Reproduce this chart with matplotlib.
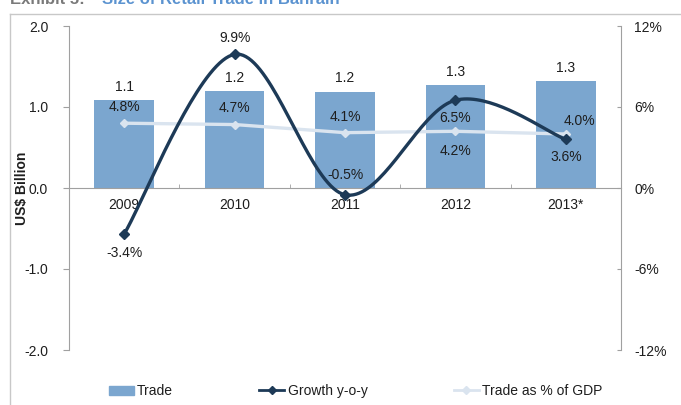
import numpy as np
import matplotlib.pyplot as plt
from matplotlib.lines import Line2D
from matplotlib.patches import Patch

plt.rcParams['font.family'] = ['Liberation Sans', 'DejaVu Sans']

years = ['2009', '2010', '2011', '2012', '2013*']
trade = [1.09, 1.20, 1.19, 1.27, 1.32]            # US$ billion
growth = [-3.4, 9.9, -0.5, 6.5, 3.6]              # % y-o-y
gdp_share = [4.8, 4.7, 4.1, 4.2, 4.0]             # % of GDP

bar_color = '#7ba6cf'
growth_color = '#1d3a57'
gdp_color = '#dae4ef'
text_color = '#1e1e1e'
axis_color = '#a0a0a0'


def smooth(xs, ys, n=40):
    # Catmull-Rom curve through the points, like a spreadsheet "smoothed line"
    xs = np.asarray(xs, float)
    ys = np.asarray(ys, float)
    px = np.concatenate([[xs[0]], xs, [xs[-1]]])
    py = np.concatenate([[ys[0]], ys, [ys[-1]]])
    outx, outy = [], []
    t = np.linspace(0, 1, n)
    for i in range(1, len(px) - 2):
        for p, out in ((px, outx), (py, outy)):
            p0, p1, p2, p3 = p[i - 1], p[i], p[i + 1], p[i + 2]
            out.extend(0.5 * ((2 * p1) + (-p0 + p2) * t
                              + (2 * p0 - 5 * p1 + 4 * p2 - p3) * t ** 2
                              + (-p0 + 3 * p1 - 3 * p2 + p3) * t ** 3))
    return np.array(outx), np.array(outy)


fig = plt.figure(figsize=(6.81, 4.05), dpi=100)
W, H = 681, 405
ax = fig.add_axes([69 / W, (H - 350) / H, (621 - 69) / W, (350 - 26) / H])
ax2 = ax.twinx()

x = np.arange(len(years))
ax.bar(x, trade, width=0.54, color=bar_color, zorder=2)
for xi, v in zip(x, trade):
    ax.annotate(f'{v:.1f}', (xi, v), xytext=(0, 9.5), textcoords='offset points',
                ha='center', va='center', fontsize=10, color=text_color)

ax.set_xlim(-0.5, len(years) - 0.5)
ax.set_ylim(-2, 2)
ax.set_yticks([-2, -1, 0, 1, 2])
ax.set_yticklabels([f'{v:.1f}' for v in [-2, -1, 0, 1, 2]])
ax.set_ylabel('US$ Billion', fontsize=10, fontweight='bold', color=text_color)
ax.yaxis.set_label_coords(-40 / 552, 0.5)

ax.spines['top'].set_visible(False)
ax.spines['right'].set_visible(False)
ax.spines['left'].set_color(axis_color)
ax.spines['bottom'].set_position(('data', 0))
ax.spines['bottom'].set_color(axis_color)
ax.tick_params(axis='y', colors=axis_color, labelcolor=text_color, labelsize=10,
               length=4, pad=11)
ax.set_xticks(x)
ax.set_xticklabels(years)
ax.tick_params(axis='x', length=0, labelsize=10, labelcolor=text_color, pad=7)
ax.set_xticks(np.arange(0.5, len(years) - 0.5), minor=True)
ax.tick_params(axis='x', which='minor', length=3, direction='in', colors=axis_color)

ax2.set_ylim(-12, 12)
ax2.set_yticks([-12, -6, 0, 6, 12])
ax2.set_yticklabels([f'{v}%' for v in [-12, -6, 0, 6, 12]])
for side in ('top', 'bottom', 'left'):
    ax2.spines[side].set_visible(False)
ax2.spines['right'].set_color(axis_color)
ax2.tick_params(axis='y', colors=axis_color, labelcolor=text_color, labelsize=10,
                length=3, direction='in', pad=9.5)

# share of GDP
ax2.plot(x, gdp_share, color=gdp_color, lw=2.4, marker='D', ms=4, zorder=3)
gdp_off = [(0, 12), (0, 12), (0, 11), (0, -14), (9.5, 9.5)]
for xi, v, off in zip(x, gdp_share, gdp_off):
    ax2.annotate(f'{v:.1f}%', (xi, v), xytext=off, textcoords='offset points',
                 ha='center', va='center', fontsize=10, color=text_color)

# growth, smoothed
sx, sy = smooth(x, growth)
ax2.plot(sx, sy, color=growth_color, lw=2.4, zorder=4)
ax2.plot(x, growth, ls='none', marker='D', ms=5, color=growth_color, zorder=5)
gr_off = [(0, -13.5), (0, 11.5), (0, 14), (0, -13), (0, -13)]
for xi, v, off in zip(x, growth, gr_off):
    ax2.annotate(f'{v:.1f}%', (xi, v), xytext=off, textcoords='offset points',
                 ha='center', va='center', fontsize=10, color=text_color)

handles = [Patch(color=bar_color),
           Line2D([], [], color=growth_color, lw=2, marker='D', ms=4),
           Line2D([], [], color=gdp_color, lw=2, marker='D', ms=4)]
fig.legend(handles, ['Trade', 'Growth y-o-y', 'Trade as % of GDP'],
           loc='center left', bbox_to_anchor=(96 / W, 1 - 391 / H), ncol=3,
           frameon=False, fontsize=10, handlelength=1.8, handleheight=0.6,
           handletextpad=0.25, columnspacing=6.2, labelcolor=text_color)

# outer frame and the heading above it, mostly off the top edge
fig.add_artist(Line2D([10 / W, 10 / W], [0, 1 - 14 / H], color='#c8c8c8', lw=1))
fig.add_artist(Line2D([10 / W, 1], [1 - 14 / H, 1 - 14 / H], color='#c8c8c8', lw=1))
fig.text(10 / W, 1 - 4 / H, 'Exhibit 5:', fontsize=12, fontweight='bold',
         color='#7a7a7a', va='baseline')
fig.text(102 / W, 1 - 4 / H, 'Size of Retail Trade in Bahrain', fontsize=12,
         fontweight='bold', color='#5b93d0', va='baseline')

fig.savefig('out.png', dpi=100)
